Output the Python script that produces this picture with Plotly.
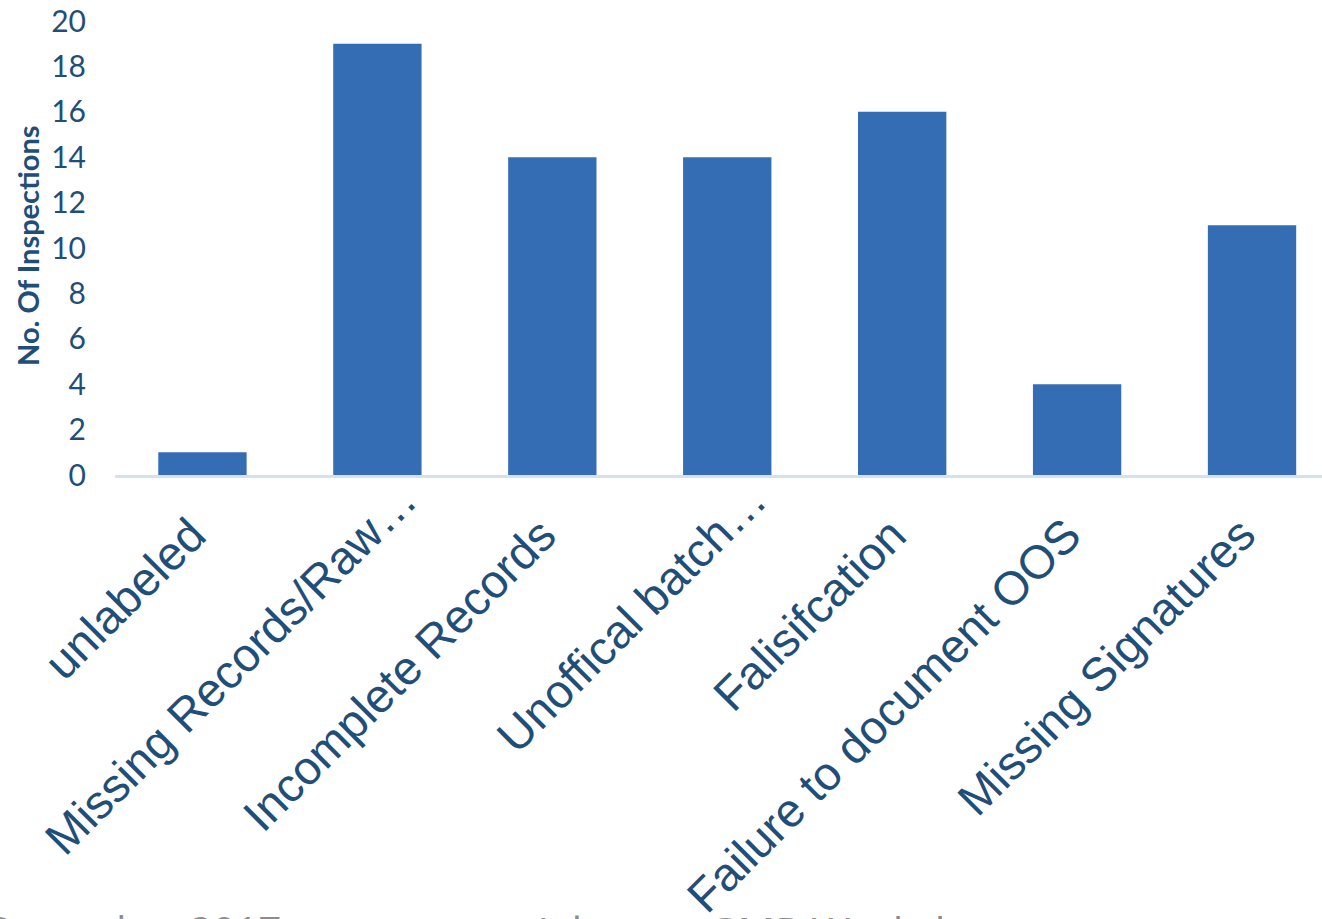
import plotly.graph_objects as go

categories = [
    "unlabeled",
    "Missing Records/Raw…",
    "Incomplete Records",
    "Unoffical batch…",
    "Falisifcation",
    "Failure to document OOS",
    "Missing Signatures",
]
inspections = [1, 19, 14, 14, 16, 4, 11]
y_ticks = list(range(0, 21, 2))
y_title = "No. Of Inspections"

W, H = 1322, 919
L, R, T, B = 115, 0, 21, 444
dark_blue = "#1F4E79"
xs = list(range(len(categories)))

fig = go.Figure()
fig.add_trace(go.Bar(
    x=xs,
    y=inspections,
    width=0.505,
    marker=dict(color="#356DB5", line=dict(width=0)),
    hoverinfo="y",
))

# rotated category labels (Excel-style; truncated labels sit further up the diagonal)
annotations = []
for i, lab in enumerate(categories):
    trunc = lab.endswith("…")
    annotations.append(dict(
        text=lab, xref="x", yref="paper", x=i, y=0,
        xanchor="right", yanchor="top", textangle=-45, showarrow=False,
        xshift=52 if trunc else 16, yshift=5 if trunc else -30,
        font=dict(family="Liberation Sans, Arial", size=47, color=dark_blue),
    ))

annotations += [
    dict(text=f"<b>{y_title}</b>", textangle=-90, xref="paper", yref="paper",
         x=(28 - L) / (W - L - R), y=(H - B - 246) / (H - T - B),
         xanchor="center", yanchor="middle",
         showarrow=False, font=dict(family="Lato, Noto Sans", size=29, color=dark_blue)),
    dict(text="December 2017", xref="paper", yref="paper",
         x=(283 - L) / (W - L - R), y=-(901 - (H - B)) / (H - T - B),
         xanchor="right", yanchor="top", showarrow=False,
         font=dict(family="Open Sans", size=40, color="#8C8C8C")),
    dict(text="Advance GMP Workshop", xref="paper", yref="paper",
         x=(528 - L) / (W - L - R), y=-(901 - (H - B)) / (H - T - B),
         xanchor="left", yanchor="top", showarrow=False,
         font=dict(family="Open Sans", size=42, color="#8C8C8C")),
]

fig.update_layout(
    width=W, height=H,
    margin=dict(l=L, r=R, t=T, b=B, pad=0, autoexpand=False),
    plot_bgcolor="white", paper_bgcolor="white",
    showlegend=False,
    xaxis=dict(
        range=[-0.5, 6.4],
        tickmode="array",
        tickvals=xs,
        ticktext=categories,
        showticklabels=False,
        showgrid=False, zeroline=False,
        showline=True, linecolor="#D3E1F1", linewidth=3,
        ticks="", automargin=False,
    ),
    yaxis=dict(
        range=[0, 20],
        tickmode="array",
        tickvals=y_ticks,
        tickfont=dict(family="Lato, Noto Sans", size=30, color=dark_blue),
        showgrid=False, zeroline=False, showline=False,
        ticks="", automargin=False,
        ticklabelstandoff=28,
    ),
    annotations=annotations,
)

fig.write_html("out.html", config={"displayModeBar": False},
               post_script="document.body.style.margin='0';")
